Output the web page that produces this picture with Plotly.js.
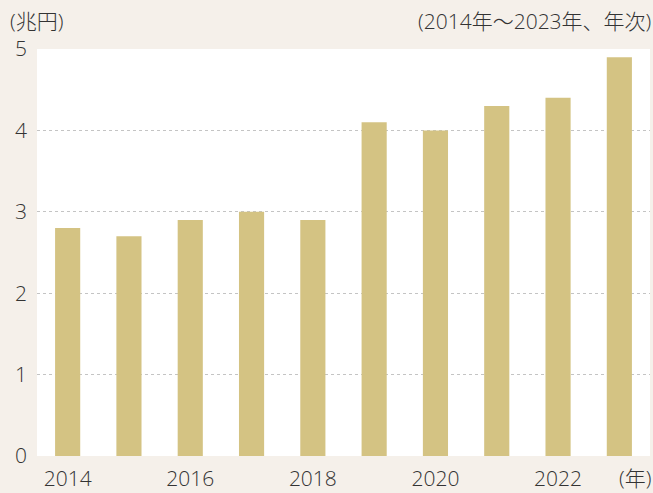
<!DOCTYPE html>
<html><head><meta charset="utf-8">
<script src="https://cdn.plot.ly/plotly-3.0.1.min.js"></script>
<style>html,body{margin:0;padding:0;background:#f5f0ea;}</style>
</head><body>
<div id="chart" style="width:653px;height:493px;"></div>
<script>
const years = ["2014","2015","2016","2017","2018","2019","2020","2021","2022","2023"];
const values = [2.8, 2.7, 2.9, 3.0, 2.9, 4.1, 4.0, 4.3, 4.4, 4.9];
const xTickVals = ["2014","2016","2018","2020","2022"];
const yTickVals = [0,1,2,3,4,5];
const unitLabel = "(兆円)";
const periodLabel = "(2014年～2023年、年次)";
const xUnitLabel = "(年)";

const fontFam = "'Open Sans', 'Noto Sans CJK JP', sans-serif";
const txt = "#333333";
const trace = {
  type: "bar", x: years, y: values,
  marker: {color: "#d4c383"}, width: 0.41,
  hoverinfo: "x+y"
};
const layout = {
  width: 653, height: 493,
  margin: {l: 37, r: 3, t: 49, b: 37},
  paper_bgcolor: "#f5f0ea", plot_bgcolor: "#ffffff",
  font: {family: fontFam, color: txt, size: 21, weight: 300},
  showlegend: false,
  xaxis: {
    type: "category", tickmode: "array", tickvals: xTickVals, ticktext: xTickVals,
    range: [-0.5, 9.5], showgrid: false, zeroline: false, showline: false,
    ticks: "", ticklen: 0, ticklabelstandoff: 8,
    tickfont: {family: fontFam, size: 21, color: txt, weight: 300}
  },
  yaxis: {
    range: [0, 5], tickmode: "array", tickvals: yTickVals,
    showgrid: true, gridcolor: "#c4c4c4", griddash: "dot", gridwidth: 1,
    zeroline: false, showline: false, ticks: "", ticklabelstandoff: 9,
    tickfont: {family: fontFam, size: 21, color: txt, weight: 300}
  },
  annotations: [
    {text: unitLabel, xref: "paper", yref: "paper", x: -0.047, y: 1, xanchor: "left", yanchor: "bottom", yshift: 12, showarrow: false, font: {family: fontFam, size: 21, color: txt, weight: 300}},
    {text: periodLabel, xref: "paper", yref: "paper", x: 1.005, y: 1, xanchor: "right", yanchor: "bottom", yshift: 12, showarrow: false, font: {family: fontFam, size: 21, color: txt, weight: 300}},
    {text: xUnitLabel, xref: "paper", yref: "paper", x: 1.005, y: 0, xanchor: "right", yanchor: "top", yshift: -6, showarrow: false, font: {family: fontFam, size: 21, color: txt, weight: 300}}
  ]
};
Plotly.newPlot("chart", [trace], layout, {displayModeBar: false, staticPlot: true});
</script>
</body></html>
